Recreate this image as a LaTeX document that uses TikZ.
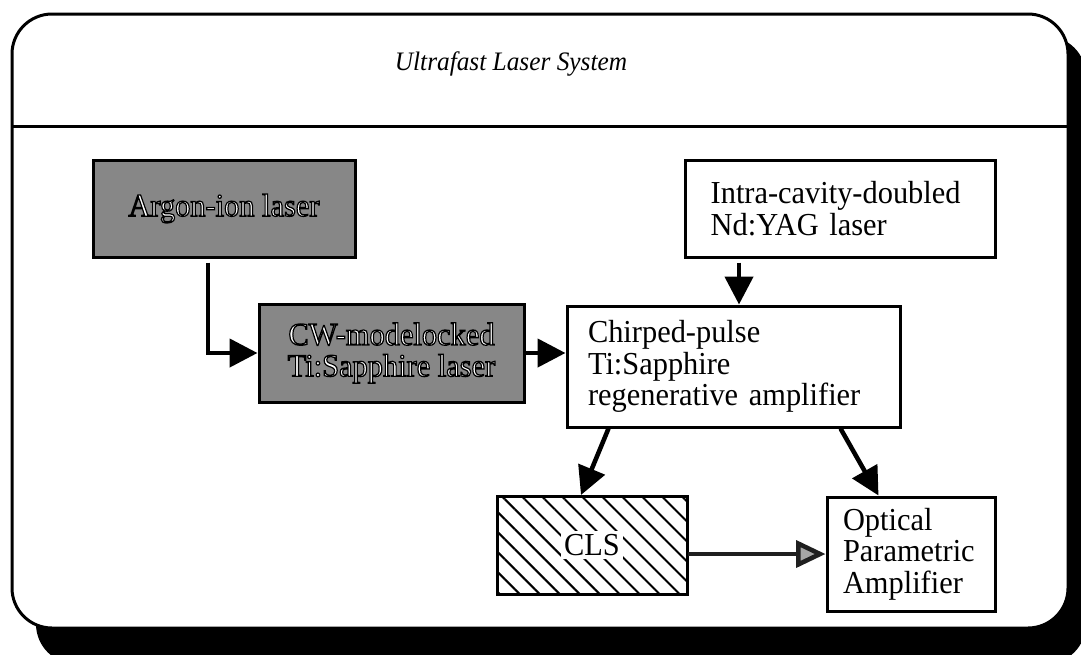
\documentclass[tikz,border=0pt]{standalone}
\usepackage{fontspec}
\setmainfont{Liberation Serif}[FakeStretch=0.95]
\usetikzlibrary{arrows.meta,patterns.meta,calc}
\newcommand\outl[1]{\textcolor{white}{\special{pdf:literal direct 2 Tr 0.9 w 0 G}#1\special{pdf:literal direct 0 Tr}}}
\begin{document}
\begin{tikzpicture}[x=0.75pt,y=-0.75pt,
  boxtext/.style={font=\fontsize{24}{23.5}\selectfont},
  box/.style={draw=black, line width=2.25pt, boxtext, inner sep=0pt},
  darkbox/.style={box, fill=black!47, align=center},
  leftbox/.style={box, fill=white, align=left},
  hatchbox/.style={box, pattern={Lines[angle=-45,distance=10.6pt,line width=1.5pt]}},
  arr/.style={line width=3.4pt, -{Triangle[length=21pt,width=21pt]}},
  garr/.style={line width=3.4pt, draw=black!88, -{Triangle[length=22pt,width=20pt,fill=black!35]}}]
\useasboundingbox (0,0) rectangle (1081,654);
\clip (0,0) rectangle (1081,654);
% frame with shadow
\fill[black, rounded corners=30pt] (36,36) rectangle (1086,664);
\draw[line width=2.25pt, fill=white, rounded corners=30pt] (12,14) rectangle (1068,628);
\coordinate (hl) at (12,126);
\coordinate (hr) at (1068,126);
\draw[line width=2.25pt] (hl) -- (hr);
\node[font=\itshape\fontsize{20}{22}\selectfont, anchor=base] (title) at (511,70) {Ultrafast Laser System};
% boxes
\node[darkbox, minimum width=196.5pt, minimum height=72.75pt] (argon) at (224,208.5) {\outl{Argon-ion laser}};
\node[darkbox, minimum width=198.75pt, minimum height=73.5pt] (cw) at (391.5,353) {\outl{CW-modelocked}\\\outl{Ti:Sapphire laser}};
\node[leftbox, text width=194pt, inner xsep=19.25pt, minimum height=72.75pt] (intra) at (840,208.5) {Intra-cavity-doubled\\Nd:YAG laser};
\node[leftbox, text width=218.25pt, inner xsep=15.75pt, minimum height=90.75pt] (chirp) at (733.5,366.5) {Chirped-pulse\\Ti:Sapphire\\regenerative amplifier};
\node[hatchbox, minimum width=142.5pt, minimum height=73.5pt] (cls) at (592,545) {\setlength\fboxsep{2.5pt}\colorbox{white}{CLS}};
\node[leftbox, text width=102pt, inner xsep=12pt, minimum height=85.5pt] (opa) at (911,554) {Optical\\Parametric\\Amplifier};
% connectors
\coordinate (ax) at (208,0);
\coordinate (nx) at (739,0);
\draw[arr, shorten <=3pt] (argon.south -| ax) |- (cw.west);
\draw[arr] (cw.east) -- (cw.east -| chirp.west);
\draw[arr, shorten <=3pt] (intra.south -| nx) -- (chirp.north -| nx);
\draw[arr] ($(chirp.south west)+(43,0)$) -- ($(cls.north west)+(85,0)$);
\draw[arr] ($(chirp.south west)+(275,0)$) -- ($(opa.north west)+(53,0)$);
\draw[garr] (cls.east |- opa.west) -- (opa.west);
\end{tikzpicture}
\end{document}
